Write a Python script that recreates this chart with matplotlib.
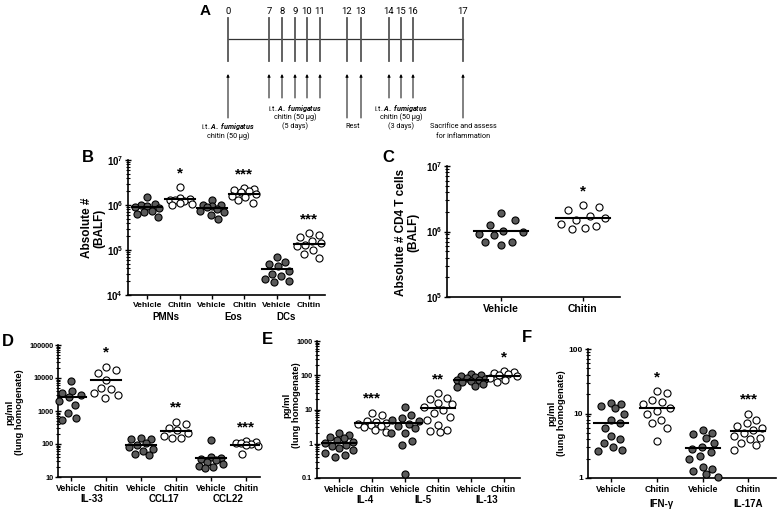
import numpy as np
import matplotlib
matplotlib.use("Agg")
import matplotlib.pyplot as plt
from matplotlib.ticker import FuncFormatter, LogLocator, NullFormatter

plt.rcParams['font.family'] = ['Liberation Sans', 'DejaVu Sans']
plt.rcParams['font.weight'] = 'bold'
plt.rcParams['mathtext.fontset'] = 'custom'
plt.rcParams['mathtext.rm'] = 'Liberation Sans'
plt.rcParams['mathtext.bf'] = 'Liberation Sans:bold'
plt.rcParams['mathtext.it'] = 'Roboto:italic'

W, H = 781, 514

# ---- data ----
days = [0, 7, 8, 9, 10, 11, 12, 13, 14, 15, 16, 17]

# B: absolute # in BALF
b_groups = ['PMNs', 'Eos', 'DCs']
pmn_veh = [1.5e6, 1.05e6, 1.0e6, 0.95e6, 0.9e6, 0.85e6, 0.75e6, 0.7e6, 0.62e6, 0.55e6]
pmn_chi = [2.5e6, 1.4e6, 1.35e6, 1.3e6, 1.3e6, 1.25e6, 1.1e6, 1.05e6, 1.0e6]
eos_veh = [1.3e6, 1.0e6, 1.0e6, 0.95e6, 0.9e6, 0.8e6, 0.75e6, 0.7e6, 0.6e6, 0.5e6]
eos_chi = [2.4e6, 2.3e6, 2.2e6, 2.0e6, 1.9e6, 1.75e6, 1.6e6, 1.5e6, 1.3e6, 1.1e6]
dc_veh = [7.0e4, 5.5e4, 5.0e4, 4.5e4, 3.5e4, 3.0e4, 2.6e4, 2.3e4, 2.1e4, 1.9e4]
dc_chi = [2.4e5, 2.2e5, 1.9e5, 1.6e5, 1.4e5, 1.3e5, 1.2e5, 1.0e5, 8.0e4, 6.5e4]
b_means = [0.9e6, 1.35e6, 0.85e6, 1.8e6, 3.8e4, 1.35e5]
b_stars = ['', '*', '', '***', '', '***']

# C: CD4 T cells
cd4_veh = [1.9e6, 1.5e6, 1.25e6, 1.02e6, 1.0e6, 0.92e6, 0.88e6, 0.7e6, 0.68e6, 0.62e6]
cd4_chi = [2.5e6, 2.4e6, 2.1e6, 1.7e6, 1.6e6, 1.5e6, 1.3e6, 1.2e6, 1.15e6, 1.1e6]
c_means = [1.03e6, 1.6e6]
c_stars = ['', '*']

# D: IL-33, CCL17, CCL22
d_groups = ['IL-33', 'CCL17', 'CCL22']
il33_veh = [8000, 4000, 3500, 3000, 2600, 2000, 1500, 900, 600, 520]
il33_chi = [22000, 18000, 14000, 9000, 5000, 4500, 3500, 3000, 2500]
ccl17_veh = [150, 145, 140, 110, 95, 80, 70, 60, 50, 45]
ccl17_chi = [480, 400, 300, 260, 220, 170, 155, 150]
ccl22_veh = [130, 40, 38, 35, 32, 28, 25, 22, 20, 19]
ccl22_chi = [120, 115, 110, 105, 100, 95, 85, 50]
d_means = [2700, 9000, 95, 250, 38, 95]
d_stars = ['', '*', '', '**', '', '***']

# E: IL-4, IL-5, IL-13
e_groups = ['IL-4', 'IL-5', 'IL-13']
il4_veh = [2.0, 1.8, 1.6, 1.5, 1.3, 1.15, 1.05, 0.95, 0.85, 0.75, 0.65, 0.55, 0.48, 0.42]
il4_chi = [8.0, 7.0, 4.6, 4.2, 4.0, 3.9, 3.6, 3.4, 3.0, 2.6, 2.2]
il5_veh = [12, 7.0, 5.5, 5.0, 4.5, 3.8, 3.3, 2.8, 2.0, 2.0, 1.2, 0.9, 0.13]
il5_chi = [30, 22, 20, 16, 14, 12, 10, 8, 6, 5, 3.5, 2.6, 2.3, 2.2]
il13_veh = [110, 105, 95, 90, 85, 80, 75, 72, 68, 62, 56, 50, 45]
il13_chi = [130, 125, 115, 110, 100, 92, 85, 72, 62]
e_means = [1.05, 4.0, 4.0, 11, 75, 95]
e_stars = ['', '***', '', '**', '', '*']

# F: IFN-g, IL-17A
f_groups = ['IFN-γ', 'IL-17A']
ifn_veh = [14.5, 14, 13, 12, 10, 8, 7, 6, 4.5, 4, 3.5, 3, 2.7, 2.6]
ifn_chi = [22, 21, 16, 15, 14, 12, 11, 10, 8, 7, 6, 3.7]
il17_veh = [5.5, 5.0, 4.8, 4.2, 3.5, 3.0, 2.8, 2.5, 2.2, 2.0, 1.5, 1.4, 1.3, 1.15, 1.05]
il17_chi = [10, 8, 7, 6.5, 6, 5.5, 5, 4.5, 4.2, 4, 3.5, 3.2, 2.7]
f_means = [7.2, 12, 2.9, 5.3]
f_stars = ['', '*', '', '***']

conds = ['Vehicle', 'Chitin']

fig = plt.figure(figsize=(W / 100, H / 100), dpi=100)


def px_axes(l, t, r, b):
    return fig.add_axes([l / W, 1 - b / H, (r - l) / W, (b - t) / H])


# overlay in pixel coords for panel A and labels
ov = px_axes(0, 0, W, H)
ov.set_xlim(0, W)
ov.set_ylim(H, 0)
ov.axis('off')

# ---- panel A: timeline ----
day_x = [228, 269, 282, 295, 307, 320, 347, 361, 389, 401, 413, 463]
ov.plot([day_x[0], day_x[-1]], [39, 39], color='#333333', lw=0.9)
for d, x in zip(days, day_x):
    ov.plot([x, x], [18, 61], color='#555555', lw=1.3)
    ov.text(x, 11, str(d), ha='center', va='center', fontsize=6.8,
            family='Roboto', weight='normal')
long_arrow = [0, 12, 13, 17]
for d, x in zip(days, day_x):
    tail = 118 if d in long_arrow else 98
    ov.annotate('', xy=(x, 74), xytext=(x, tail),
                arrowprops=dict(arrowstyle='-|>', lw=0.7, color='black',
                                mutation_scale=4, shrinkA=0, shrinkB=0))
tkw = dict(ha='center', va='center', fontsize=5.2, family='Roboto', weight='normal')
fum = r'i.t. $\it{A.\ fumigatus}$'
ov.text(day_x[0], 127, fum, **tkw)
ov.text(day_x[0], 136, 'chitin (50 µg)', **tkw)
ov.text(day_x[3], 108, fum, **tkw)
ov.text(day_x[3], 117, 'chitin (50 µg)', **tkw)
ov.text(day_x[3], 126, '(5 days)', **tkw)
ov.text(353, 127, 'Rest', **tkw)
ov.text(day_x[9], 108, fum, **tkw)
ov.text(day_x[9], 117, 'chitin (50 µg)', **tkw)
ov.text(day_x[9], 126, '(3 days)', **tkw)
ov.text(day_x[-1], 127, 'Sacrifice and assess', **tkw)
ov.text(day_x[-1], 136, 'for inflammation', **tkw)

# panel letters
for lab, x, y, fs in [('A', 205, 11, 11), ('B', 88, 158, 12), ('C', 388, 158, 12),
                      ('D', 8, 342, 12), ('E', 267, 340, 12), ('F', 527, 338, 12)]:
    ov.text(x, y, lab, ha='center', va='center', fontsize=fs, weight='bold')

# y labels
for txt, x, y, fs in [('Absolute #\n(BALF)', 93, 228, 8.5),
                      ('Absolute # CD4 T cells\n(BALF)', 407, 232, 8.5),
                      ('pg/ml\n(lung homogenate)', 15, 412, 6.8),
                      ('pg/ml\n(lung homogenate)', 292, 405, 6.8),
                      ('pg/ml\n(lung homogenate)', 557, 413, 6.8)]:
    ov.text(x, y, txt, rotation=90, ha='center', va='center', fontsize=fs,
            weight='bold', linespacing=1.05)


def swarm_x(ax, x0, vals, d_px, cap):
    pts = ax.transData.transform(np.column_stack([np.full(len(vals), x0), vals]))
    placed = []
    offs = []
    grid = list(np.linspace(-cap, cap, 21))
    for y in pts[:, 1]:
        cands = [0.0] + grid
        for a, b in placed:
            dy = y - b
            if abs(dy) < d_px:
                dx = np.sqrt(d_px ** 2 - dy ** 2)
                cands += [a + dx, a - dx]
        cands = [c for c in cands if abs(c) <= cap + 1e-6]
        cands.sort(key=abs)
        best, best_d = None, -1
        for c in cands:
            md = min([np.hypot(c - a, y - b) for a, b in placed] or [1e9])
            if md >= d_px - 1e-6:
                best = c
                break
            if md > best_d + 0.3:
                best, best_d = c, md
        placed.append((best, y))
        offs.append(best)
    disp = np.column_stack([pts[:, 0] + np.array(offs), pts[:, 1]])
    return ax.transData.inverted().transform(disp)[:, 0]


def panel(box, series, means, stars, ylim, xlim, groups, grp_x, fmt,
          tick_fs=6.3, grp_fs=7, grp_off=16, ytick_fs=5.8, hw_px=15, cap=14, spread=10):
    ax = px_axes(*box)
    ax.set_yscale('log')
    ax.set_ylim(*ylim)
    ax.set_xlim(*xlim)
    for s in ['top', 'right']:
        ax.spines[s].set_visible(False)
    for s in ['left', 'bottom']:
        ax.spines[s].set_linewidth(1.2)
    xs = np.arange(len(series))
    ppu = ax.transData.transform([[1, ylim[0]]])[0, 0] - ax.transData.transform([[0, ylim[0]]])[0, 0]
    hw = hw_px / ppu
    for i, vals in enumerate(series):
        sx = swarm_x(ax, i, vals, spread, cap)
        fc = '#5a5a5a' if i % 2 == 0 else 'white'
        ax.scatter(sx, vals, s=26, facecolor=fc, edgecolor='black', linewidth=0.8,
                   zorder=3, clip_on=False)
        ax.plot([i - hw, i + hw], [means[i], means[i]], color='black', lw=1.5, zorder=4)
        if stars[i]:
            ax.annotate(stars[i], xy=(i, max(vals)), xytext=(0, 10),
                        textcoords='offset points', ha='center', va='center',
                        fontsize=11, weight='bold')
    ax.set_xticks(xs)
    ax.set_xticklabels([conds[i % 2] for i in xs], fontsize=tick_fs, weight='bold')
    ax.tick_params(axis='x', length=3, width=1, pad=2)
    ax.yaxis.set_major_locator(LogLocator(base=10, numticks=10))
    ax.yaxis.set_minor_locator(LogLocator(base=10, subs=np.arange(2, 10), numticks=10))
    ax.yaxis.set_minor_formatter(NullFormatter())
    ax.yaxis.set_major_formatter(FuncFormatter(fmt))
    ax.tick_params(axis='y', which='major', length=5, width=1, direction='inout',
                   labelsize=ytick_fs, pad=1)
    ax.tick_params(axis='y', which='minor', length=3.5, width=0.8, direction='inout')
    for g, gx in zip(groups, grp_x):
        ax.annotate(g, xy=(gx, 0), xycoords=('data', 'axes fraction'),
                    xytext=(0, -grp_off), textcoords='offset points',
                    ha='center', va='center', fontsize=grp_fs, weight='bold')
    return ax


def sci(v, pos):
    return r'$\mathbf{10^{%d}}$' % round(np.log10(v))


def plain(v, pos):
    return '%g' % v


panel((128, 160, 325, 295),
      [pmn_veh, pmn_chi, eos_veh, eos_chi, dc_veh, dc_chi], b_means, b_stars,
      (1e4, 1e7), (-0.6, 5.5), b_groups, [0.56, 2.65, 4.3], sci,
      tick_fs=6, ytick_fs=7, grp_off=16, hw_px=15, cap=12)

panel((447, 166, 620, 297),
      [cd4_veh, cd4_chi], c_means, c_stars,
      (1e5, 1e7), (-0.65, 1.45), [], [], sci,
      tick_fs=7.5, ytick_fs=7, hw_px=27, cap=22, spread=16)

panel((58, 345, 260, 477),
      [il33_veh, il33_chi, ccl17_veh, ccl17_chi, ccl22_veh, ccl22_chi], d_means, d_stars,
      (10, 1e5), (-0.37, 5.4), d_groups, [0.6, 2.66, 4.49], plain,
      ytick_fs=5.2, hw_px=15, cap=12)

panel((317, 341, 520, 478),
      [il4_veh, il4_chi, il5_veh, il5_chi, il13_veh, il13_chi], e_means, e_stars,
      (0.1, 1000), (-0.68, 5.5), e_groups, [0.79, 2.55, 4.5], plain,
      ytick_fs=5.2, hw_px=17, cap=14)

panel((588, 349, 776, 478),
      [ifn_veh, ifn_chi, il17_veh, il17_chi], f_means, f_stars,
      (1, 100), (-0.5, 3.6), f_groups, [1.1, 3.0], plain,
      ytick_fs=6, grp_off=19, hw_px=17, cap=15)

fig.savefig('out.png', dpi=100)
